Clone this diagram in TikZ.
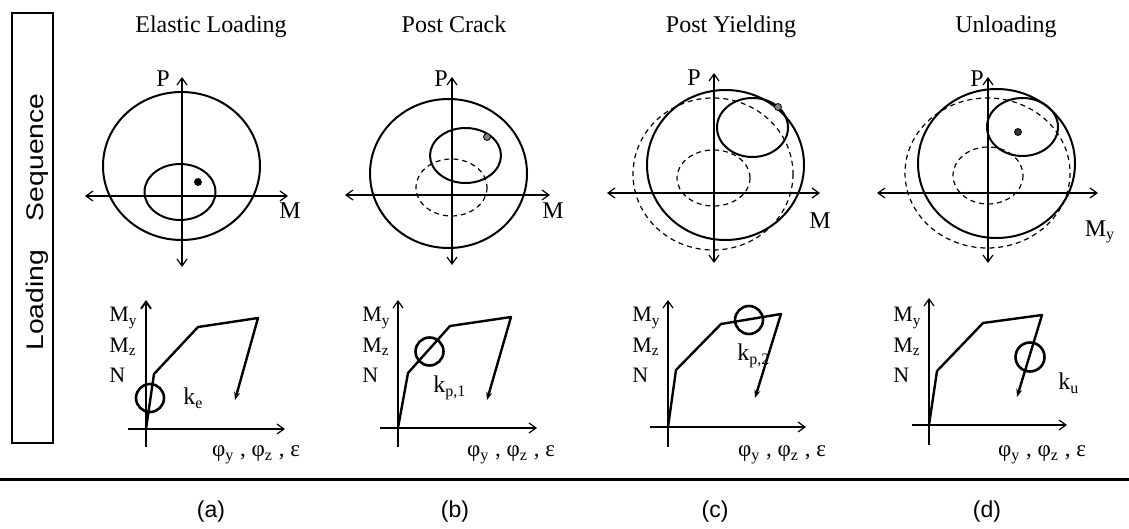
\documentclass[tikz,border=0pt]{standalone}
\usepackage{fontspec}
\setmainfont{Liberation Serif}
\newfontfamily\seqfont[FakeStretch=1.18]{Liberation Sans}
\newfontfamily\capfont{Liberation Sans}
\usetikzlibrary{arrows.meta}

\begin{document}
\begin{tikzpicture}[
    x=0.5pt, y=-0.5pt,
    >={Straight Barb[length=3.5pt,width=5pt]},
    ttl/.style={font=\fontsize{12}{14}\selectfont, anchor=base},
    lbl/.style={font=\fontsize{12}{14}\selectfont, inner sep=1pt},
    mlbl/.style={font=\fontsize{11}{12}\selectfont, inner sep=0pt, anchor=west},
    flbl/.style={font=\fontsize{11.5}{13}\selectfont, inner sep=1pt},
    subcap/.style={font=\capfont\fontsize{11.5}{13}\selectfont},
    axis/.style={<->, line width=0.6pt},
    gaxis/.style={->, line width=0.6pt},
    surf/.style={line width=1pt},
    surfd/.style={line width=0.6pt, dash pattern=on 2.5pt off 2pt},
    curve/.style={-{Stealth[length=4pt,width=3pt]}, line width=1.2pt, line join=round},
    ring/.style={line width=1.3pt},
    stpt/.style={circle, draw, line width=0.4pt, inner sep=0pt, minimum size=3.5pt}
  ]
    \useasboundingbox (0,0) rectangle (1129,529);

    %--- Left caption box ---
    \draw[line width=0.6pt] (12,13) rectangle (53,443);
    \node[rotate=90, font=\seqfont\fontsize{12}{14}\selectfont] (seq) at (37,222)
      {Loading\hspace{1.2em}Sequence};

    %--- Stage titles ---
    \node[ttl] (ta) at (211,33)  {Elastic Loading};
    \node[ttl] (tb) at (454,33)  {Post Crack};
    \node[ttl] (tc) at (731,33)  {Post Yielding};
    \node[ttl] (td) at (1006,33) {Unloading};

    %--- (a) interaction surface ---
    \draw[axis] (182,267) -- (182,77);
    \draw[axis] (85,196) -- (288,196);
    \draw[surf] (181.5,166) ellipse [x radius=78.5, y radius=74];
    \draw[surf] (180,192) ellipse [x radius=35.5, y radius=28];
    \node[stpt, fill=black] (pa) at (198,182) {};
    \node[lbl] (Pa) at (163,79)  {P};
    \node[lbl] (Ma) at (290,211) {M};

    %--- (b) interaction surface ---
    \draw[axis] (452,265) -- (452,77);
    \draw[axis] (345,195) -- (550,195);
    \draw[surf] (448.5,173.5) ellipse [x radius=78.5, y radius=74.5];
    \draw[surfd] (451.5,187.5) ellipse [x radius=35.5, y radius=28.5];
    \draw[surf] (465.5,155.5) ellipse [x radius=35.5, y radius=27.5];
    \node[stpt, fill=gray] (pb) at (487,137) {};
    \node[lbl] (Pb) at (441,79)  {P};
    \node[lbl] (Mb) at (553,211) {M};

    %--- (c) interaction surface ---
    \draw[axis] (714,263) -- (714,73);
    \draw[axis] (607,193) -- (820,193);
    \draw[surfd] (713,174) ellipse [x radius=80, y radius=76];
    \draw[surf] (725.5,165) ellipse [x radius=78.5, y radius=75];
    \draw[surfd] (713.5,178) ellipse [x radius=36.5, y radius=28];
    \draw[surf] (752.5,127.5) ellipse [x radius=35.5, y radius=29.5];
    \node[stpt, fill=gray] (pc) at (778,107) {};
    \node[lbl] (Pc) at (694,78)  {P};
    \node[lbl] (Mc) at (820,221) {M};

    %--- (d) interaction surface ---
    \draw[axis] (988,263) -- (988,77);
    \draw[axis] (877,193) -- (1098,193);
    \draw[surfd] (987.5,173) ellipse [x radius=82.5, y radius=75];
    \draw[surf] (996.5,163.5) ellipse [x radius=78.5, y radius=74.5];
    \draw[surfd] (988,175.5) ellipse [x radius=35, y radius=28.5];
    \draw[surf] (1022.5,127) ellipse [x radius=35.5, y radius=29];
    \node[stpt, fill=gray!40!black] (pd) at (1018,132) {};
    \node[lbl] (Pd) at (977,79)   {P};
    \node[lbl] (Md) at (1100,232) {M\textsubscript{y}};

    %--- (a) response curve ---
    \draw[gaxis, line width=1pt] (146,447) -- (146,300);
    \draw[gaxis] (128,429) -- (285,429);
    \draw[curve] (146,429) -- (154,374) -- (198,327) -- (258,318) -- (235,400);
    \draw[ring] (150,398) circle [radius=14];
    \node[lbl, anchor=west] (ka) at (181,398) {k\textsubscript{e}};
    \node[mlbl] (Mya) at (109,318) {M\textsubscript{y}};
    \node[mlbl] (Mza) at (109,347) {M\textsubscript{z}};
    \node[mlbl] (Na)  at (109,375) {N};
    \node[flbl] (fa) at (256,455) {φ\textsubscript{y} , φ\textsubscript{z} , ε};

    %--- (b) response curve ---
    \draw[gaxis] (398,447) -- (398,300);
    \draw[gaxis] (380,428) -- (537,428);
    \draw[curve] (398,428) -- (408,373) -- (450,326) -- (511,317) -- (487,400);
    \draw[ring] (429.5,351.5) circle [radius=14];
    \node[lbl, anchor=west] (kb) at (431,388) {k\textsubscript{p,1}};
    \node[mlbl] (Myb) at (362,318) {M\textsubscript{y}};
    \node[mlbl] (Mzb) at (362,347) {M\textsubscript{z}};
    \node[mlbl] (Nb)  at (362,375) {N};
    \node[flbl] (fb) at (511,455) {φ\textsubscript{y} , φ\textsubscript{z} , ε};

    %--- (c) response curve ---
    \draw[gaxis] (668,447) -- (668,300);
    \draw[gaxis] (650,427) -- (806,427);
    \draw[curve] (668,427) -- (676,370) -- (721,324) -- (781,314) -- (755,398);
    \draw[ring] (749,320) circle [radius=14];
    \node[lbl, anchor=west] (kc) at (735,356) {k\textsubscript{p,2}};
    \node[mlbl] (Myc) at (632,318) {M\textsubscript{y}};
    \node[mlbl] (Mzc) at (632,347) {M\textsubscript{z}};
    \node[mlbl] (Nc)  at (632,375) {N};
    \node[flbl] (fc) at (782,455) {φ\textsubscript{y} , φ\textsubscript{z} , ε};

    %--- (d) response curve ---
    \draw[gaxis] (929,445) -- (929,298);
    \draw[gaxis] (912,425) -- (1067,425);
    \draw[curve] (929,425) -- (937,371) -- (983,323) -- (1042,315) -- (1017,397);
    \draw[ring] (1030,357) circle [radius=14.5];
    \node[lbl, anchor=west] (kd) at (1056,383) {k\textsubscript{u}};
    \node[mlbl] (Myd) at (893,318) {M\textsubscript{y}};
    \node[mlbl] (Mzd) at (893,347) {M\textsubscript{z}};
    \node[mlbl] (Nd)  at (893,375) {N};
    \node[flbl] (fd) at (1042,455) {φ\textsubscript{y} , φ\textsubscript{z} , ε};

    %--- Rule and sub-captions ---
    \draw[line width=1.5pt] (0,479) -- (1129,479);
    \node[subcap] (ca) at (211,512) {(a)};
    \node[subcap] (cb) at (455,512) {(b)};
    \node[subcap] (cc) at (715,512) {(c)};
    \node[subcap] (cd) at (987,512) {(d)};
\end{tikzpicture}
\end{document}
